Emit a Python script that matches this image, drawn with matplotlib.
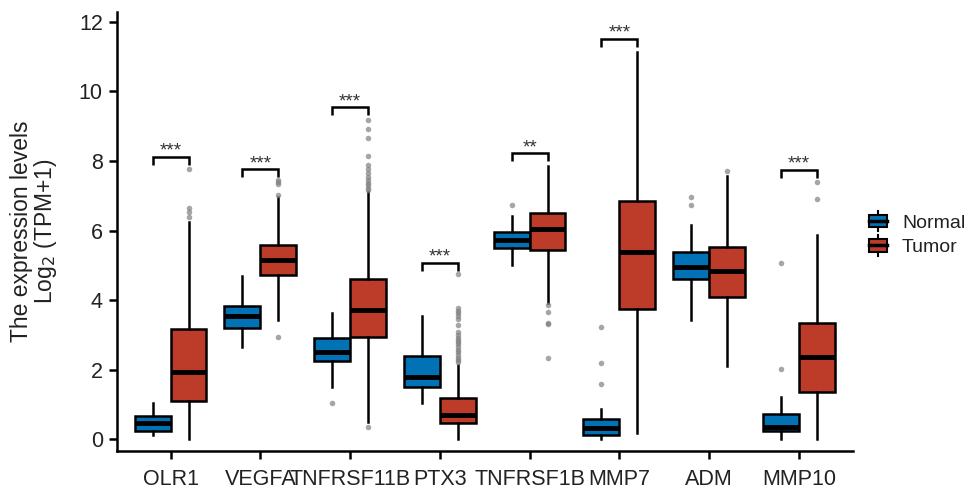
import matplotlib
matplotlib.use("Agg")
import matplotlib.pyplot as plt
from matplotlib.patches import Rectangle
from matplotlib.lines import Line2D
from matplotlib.legend_handler import HandlerBase

plt.rcParams['font.family'] = ['Liberation Sans', 'DejaVu Sans']

genes = ["OLR1", "VEGFA", "TNFRSF11B", "PTX3", "TNFRSF1B", "MMP7", "ADM", "MMP10"]

# Normal group box statistics
normal_whislo = [0.13, 2.65, 1.50, 1.05, 5.01, 0.00, 3.43, 0.00]
normal_q1     = [0.25, 3.20, 2.24, 1.51, 5.49, 0.13, 4.60, 0.24]
normal_med    = [0.48, 3.55, 2.52, 1.78, 5.73, 0.32, 4.96, 0.37]
normal_q3     = [0.67, 3.83, 2.90, 2.41, 5.97, 0.58, 5.38, 0.73]
normal_whishi = [1.05, 4.69, 3.62, 3.55, 6.42, 0.87, 6.16, 1.23]
normal_fliers = [[], [], [1.05], [], [6.74], [1.59, 2.19, 3.22], [6.74, 6.96], [2.01, 5.06]]

# Tumor group box statistics
tumor_whislo = [0.00, 3.43, 0.51, 0.00, 3.91, 0.18, 2.11, 0.00]
tumor_q1     = [1.10, 4.73, 2.95, 0.46, 5.44, 3.75, 4.10, 1.37]
tumor_med    = [1.95, 5.16, 3.73, 0.70, 6.04, 5.39, 4.85, 2.38]
tumor_q3     = [3.17, 5.60, 4.61, 1.20, 6.50, 6.85, 5.54, 3.35]
tumor_whishi = [6.26, 6.97, 7.12, 2.14, 7.86, 11.14, 7.58, 5.87]
tumor_fliers = [
    [6.40, 6.54, 6.64, 7.76],
    [2.95, 7.03, 7.33, 7.40, 7.45],
    [0.35, 7.17, 7.22, 7.31, 7.38, 7.45, 7.55, 7.66, 7.77, 7.90, 8.15, 8.67, 8.92, 9.18],
    [2.22, 2.28, 2.35, 2.42, 2.50, 2.58, 2.65, 2.73, 2.80, 2.85, 2.92, 3.00, 3.10,
     3.30, 3.45, 3.55, 3.62, 3.70, 3.77, 4.75],
    [3.86, 3.65, 3.35, 3.32, 2.35],
    [],
    [7.72],
    [6.90, 7.39],
]

# Significance annotations
sig_labels = ["***", "***", "***", "***", "**", "***", "", "***"]
sig_y      = [8.12, 7.76, 9.54, 5.06, 8.22, 11.50, None, 7.74]

groups = ["Normal", "Tumor"]
colors = ["#0072B5", "#BC3C29"]

fig = plt.figure(figsize=(9.67, 4.90), dpi=100)
ax = fig.add_axes([0.1207, 0.0802, 0.7611, 0.8958])

def make_stats(lo, q1, med, q3, hi, fl):
    return [dict(whislo=a, q1=b, med=c, q3=d, whishi=e, fliers=f)
            for a, b, c, d, e, f in zip(lo, q1, med, q3, hi, fl)]

stats = [make_stats(normal_whislo, normal_q1, normal_med, normal_q3, normal_whishi, normal_fliers),
         make_stats(tumor_whislo, tumor_q1, tumor_med, tumor_q3, tumor_whishi, tumor_fliers)]

offsets = [-0.2, 0.2]
for g in range(2):
    pos = [i + offsets[g] for i in range(len(genes))]
    ax.bxp(stats[g], positions=pos, widths=0.4, patch_artist=True, showcaps=False,
           boxprops=dict(facecolor=colors[g], edgecolor="black", linewidth=1.8),
           medianprops=dict(color="black", linewidth=3.5, solid_capstyle="butt"),
           whiskerprops=dict(color="black", linewidth=1.8),
           flierprops=dict(marker="o", markerfacecolor="#808080", markeredgecolor="none",
                           markersize=4, alpha=0.7),
           zorder=2)

# significance brackets
tip = 0.22
for i, (lab, yv) in enumerate(zip(sig_labels, sig_y)):
    if yv is None or lab == "":
        continue
    x0, x1 = i + offsets[0], i + offsets[1]
    ax.plot([x0, x0, x1, x1], [yv - tip, yv, yv, yv - tip], color="black", lw=1.8,
            solid_capstyle="butt", solid_joinstyle="miter")
    ax.text(i, yv + 0.04, lab, ha="center", va="baseline", fontsize=13.5, color="#333333")

ax.set_xlim(-0.6, len(genes) - 0.4)
ax.set_ylim(-0.325, 12.29)
ax.set_xticks(range(len(genes)))
ax.set_xticklabels(genes, fontsize=15.5, color="#222222")
ax.set_yticks([0, 2, 4, 6, 8, 10, 12])
ax.set_yticklabels(["0", "2", "4", "6", "8", "10", "12"], fontsize=15.5, color="#222222")
ax.tick_params(axis="both", length=6, width=1.8, color="black", pad=4)
ax.tick_params(axis="x", pad=7)
for s in ["top", "right"]:
    ax.spines[s].set_visible(False)
for s in ["left", "bottom"]:
    ax.spines[s].set_linewidth(1.8)
ax.set_ylabel("The expression levels\nLog$_2$ (TPM+1)", fontsize=16.5, color="#222222",
              linespacing=0.95)
ax.yaxis.set_label_coords(-0.078, 0.5)


class BoxHandler(HandlerBase):
    def create_artists(self, legend, orig_handle, xdescent, ydescent, width, height, fontsize, trans):
        cx = -xdescent + width / 2
        w = width * 0.85
        h = height * 0.95
        cy = -ydescent + height / 2
        line = Line2D([cx, cx], [cy - h * 0.8, cy + h * 0.8], color="black", lw=1.5, transform=trans)
        rect = Rectangle((cx - w / 2, cy - h / 2), w, h, facecolor=orig_handle, edgecolor="black",
                         lw=1.5, transform=trans)
        med = Line2D([cx - w / 2, cx + w / 2], [cy, cy], color="black", lw=2.5, transform=trans)
        return [line, rect, med]


leg = fig.legend(colors, groups, handler_map={str: BoxHandler()}, loc="center left",
                 bbox_to_anchor=(0.8966, 0.52), frameon=False, fontsize=14, handlelength=1.1,
                 handletextpad=0.7, labelspacing=0.35, borderpad=0, borderaxespad=0)
for t in leg.get_texts():
    t.set_color("#222222")

fig.savefig("out.png", dpi=100)
